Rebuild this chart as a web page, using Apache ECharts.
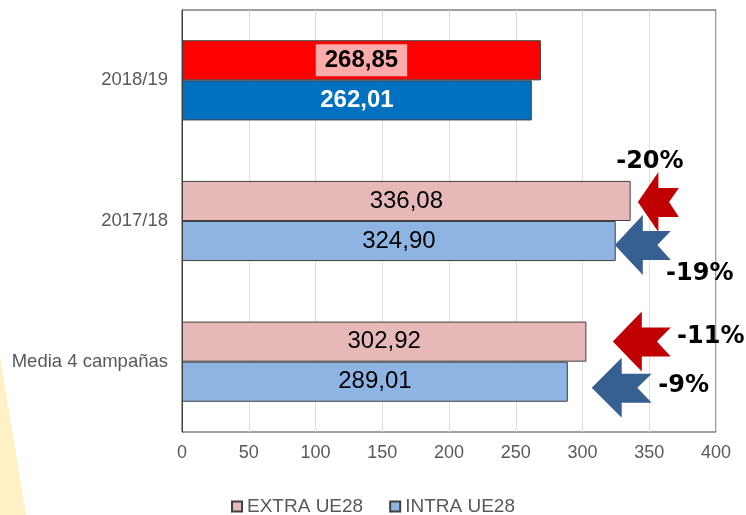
<!DOCTYPE html>
<html>
<head>
<meta charset="utf-8">
<script src="https://cdn.jsdelivr.net/npm/echarts@6/dist/echarts.min.js"></script>
<style>
  html, body { margin: 0; padding: 0; background: #fff; }
  #main { width: 746px; height: 515px; }
</style>
</head>
<body>
<div id="main"></div>
<script>
const categories = ['2018/19', '2017/18', 'Media 4 campañas']
const extraValues = [268.85, 336.08, 302.92]
const intraValues = [262.01, 324.90, 289.01]
const xTicks = [0, 50, 100, 150, 200, 250, 300, 350, 400]

// arrows: [tip value, category index, bar (0 extra, 1 intra)]
const arrowTips = [
  [341.5, 1, 0],
  [324.2, 1, 1],
  [322.7, 2, 0],
  [306.9, 2, 1]
]
const arrowLabels = ['-20%', '-19%', '-11%', '-9%']

const fmt = v => v.toFixed(2).replace('.', ',')

// look of each arrow and where its label sits
const arrowLook = [
  { w: 41, dy: 1, lx: 12, ly: -40, color: '#C00000' },
  { w: 56, dy: 4, lx: 85, ly: 29, color: '#366092' },
  { w: 58, dy: 0, lx: 98, ly: -5, color: '#C00000' },
  { w: 60, dy: 6, lx: 92, ly: -2, color: '#366092' }
]

const myChart = echarts.init(document.getElementById('main'))

const option = {
  animation: false,
  textStyle: { fontFamily: 'Liberation Sans, Arial, sans-serif' },
  graphic: [{
    type: 'polygon',
    shape: { points: [[0, 356], [26, 515], [0, 515]] },
    style: { fill: '#FFF1C4' },
    z: -1
  }],
  legend: {
    data: ['EXTRA UE28', 'INTRA UE28'],
    bottom: -6,
    left: 'center',
    icon: 'rect',
    itemWidth: 10,
    itemHeight: 10,
    itemGap: 26,
    textStyle: { color: '#595959', fontSize: 19 }
  },
  grid: {
    left: 182,
    right: 30,
    top: 10,
    bottom: 83,
    show: true,
    borderColor: '#404040',
    borderWidth: 1
  },
  xAxis: {
    type: 'value',
    min: 0,
    max: 400,
    interval: 50,
    axisLine: { show: false },
    axisTick: { show: false },
    splitLine: { lineStyle: { color: '#DDDDDD', width: 1 } },
    axisLabel: {
      color: '#595959',
      fontSize: 18,
      margin: 12,
      formatter: v => xTicks.includes(v) ? String(v) : ''
    }
  },
  yAxis: {
    type: 'category',
    data: categories,
    inverse: true,
    axisLine: { show: true, lineStyle: { color: '#404040' } },
    axisTick: { show: false },
    axisLabel: { color: '#595959', fontSize: 18.5, margin: 14 }
  },
  series: [
    {
      name: 'EXTRA UE28',
      type: 'bar',
      barGap: 0,
      barCategoryGap: '43%',
      itemStyle: { color: '#E6B9B8', borderColor: '#404040', borderWidth: 1 },
      label: {
        show: true,
        position: 'inside',
        color: '#000',
        fontSize: 24,
        formatter: p => fmt(p.value)
      },
      data: extraValues.map((v, i) => i === 0 ? {
        value: v,
        itemStyle: { color: '#FF0000', borderColor: '#404040' },
        label: {
          fontWeight: 'bold',
          backgroundColor: '#FFABAB',
          padding: [5, 9, 3, 9]
        }
      } : v)
    },
    {
      name: 'INTRA UE28',
      type: 'bar',
      barGap: 0,
      barCategoryGap: '43%',
      itemStyle: { color: '#8EB4E3', borderColor: '#404040', borderWidth: 1 },
      label: {
        show: true,
        position: 'inside',
        color: '#000',
        fontSize: 24,
        formatter: p => fmt(p.value)
      },
      data: intraValues.map((v, i) => i === 0 ? {
        value: v,
        itemStyle: { color: '#0070C0', borderColor: '#404040' },
        label: { color: '#fff', fontWeight: 'bold' }
      } : v)
    },
    {
      name: 'arrows',
      type: 'custom',
      clip: false,
      z: 5,
      data: arrowTips,
      renderItem: (params, api) => {
        const i = params.dataIndex
        const look = arrowLook[i]
        const p = api.coord([api.value(0), api.value(1)])
        const band = api.size([0, 1])[1]
        const off = band * 0.57 / 4
        const x = p[0]
        const y = p[1] + (api.value(2) === 0 ? -off : off) + look.dy
        const w = look.w
        const pts = [
          [x, y],
          [x + w * 0.5, y - 30],
          [x + w * 0.5, y - 14],
          [x + w, y - 14],
          [x + w * 0.76, y],
          [x + w, y + 15],
          [x + w * 0.5, y + 15],
          [x + w * 0.5, y + 30]
        ]
        return {
          type: 'group',
          children: [
            { type: 'polygon', shape: { points: pts }, style: { fill: look.color } },
            {
              type: 'text',
              style: {
                text: arrowLabels[i],
                x: x + look.lx,
                y: y + look.ly,
                align: 'center',
                verticalAlign: 'middle',
                fill: '#000',
                font: 'bold 24px "DejaVu Sans"'
              }
            }
          ]
        }
      }
    }
  ]
}

myChart.setOption(option)
</script>
</body>
</html>
